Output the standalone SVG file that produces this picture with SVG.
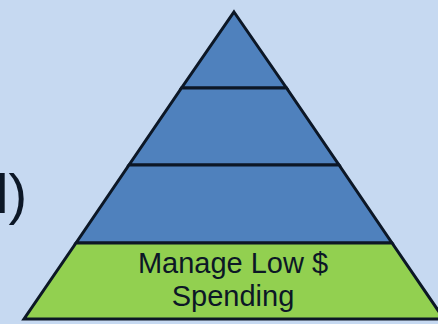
<svg xmlns="http://www.w3.org/2000/svg" width="438" height="324" viewBox="0 0 438 324">
<style>
.layer{stroke:#0c1726;stroke-width:3;stroke-linejoin:miter}
.blue{fill:#4f81bd}
.green{fill:#92d050}
.lbl{font-family:"Liberation Sans",Arial,sans-serif;font-size:29px;fill:#0c1726;text-anchor:middle}
</style>
<rect width="438" height="324" fill="#c6d9f1"/>
<text x="-4" y="213" style="font-family:'Liberation Sans',Arial,sans-serif;font-size:56px;fill:#0c1726">l)</text>
<g id="layer1"><polygon class="layer blue" points="234,12 286.5,88 181.5,88"/></g>
<g id="layer2"><polygon class="layer blue" points="181.5,88 286.5,88 339,165 129,165"/></g>
<g id="layer3"><polygon class="layer blue" points="129,165 339,165 392,243 76,243"/></g>
<g id="layer4"><polygon class="layer green" points="76,243 392,243 444,319 24,319"/>
<text class="lbl" x="233" y="273">Manage Low $</text>
<text class="lbl" x="233" y="306">Spending</text></g>
</svg>
